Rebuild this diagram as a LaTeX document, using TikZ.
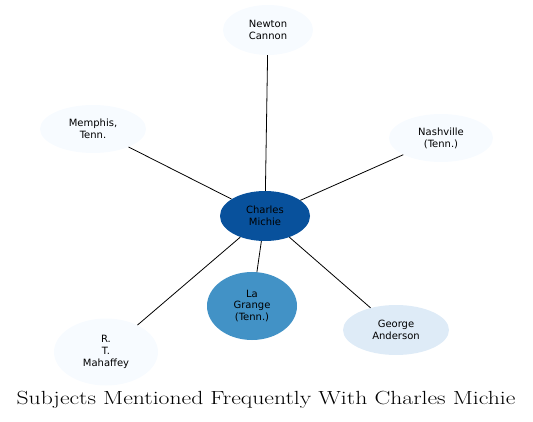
\documentclass[tikz,border=0pt]{standalone}
\usepackage{fontspec}
\setsansfont{DejaVu Sans}
\usetikzlibrary{shapes.geometric}
\definecolor{blueA}{HTML}{F7FBFF}
\definecolor{blueB}{HTML}{DEEBF7}
\definecolor{blueC}{HTML}{4292C6}
\definecolor{blueD}{HTML}{08519C}
\begin{document}
\begin{tikzpicture}[x=1pt,y=-1pt]
			\tikzset{subject/.style={ellipse,inner sep=0pt,align=center,
					font=\sffamily\fontsize{10}{11.8}\selectfont,fill=blueA}}
			\tikzset{link/.style={black,line width=0.8pt}}
			\useasboundingbox (0,0) rectangle (533,422);
			% centre and its subjects
			\node[subject,fill=blueD,minimum width=90pt,minimum height=50pt] (michie) at (265,216) {Charles\\Michie};
			\node[subject,minimum width=90pt,minimum height=50pt] (cannon) at (268,30) {Newton\\Cannon};
			\node[subject,minimum width=106pt,minimum height=48pt] (memphis) at (93,129) {Memphis,\\Tenn.};
			\node[subject,minimum width=104pt,minimum height=48pt] (nashville) at (441,138) {Nashville\\(Tenn.)};
			\node[subject,fill=blueC,minimum width=90pt,minimum height=68pt] (lagrange) at (252,306) {La\\Grange\\(Tenn.)};
			\node[subject,fill=blueB,minimum width=106pt,minimum height=50pt] (anderson) at (396,330) {George\\Anderson};
			\node[subject,minimum width=104pt,minimum height=67pt] (mahaffey) at (106,352) {R.\\T.\\Mahaffey};
			\foreach \n in {cannon,memphis,nashville,lagrange,anderson,mahaffey}
				\draw[link] (michie)--(\n);
			\node[font=\fontsize{19}{22}\selectfont,xscale=1.245] (title) at (266,400) {Subjects Mentioned Frequently With Charles Michie};
		\end{tikzpicture}
\end{document}
